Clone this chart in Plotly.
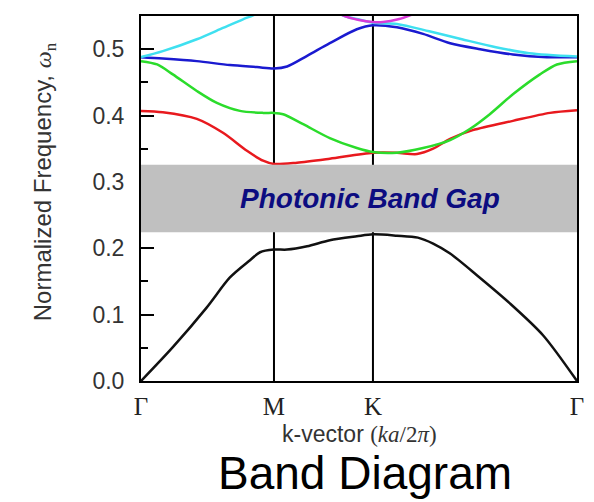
import plotly.graph_objects as go

# symmetry points along k-path (fraction of path length)
sym_names = ["Γ", "M", "K", "Γ"]
sym_pos = [0.0, 0.305, 0.532, 1.0]

# band 1 (black)
b1_k = [0, 0.073, 0.151, 0.204, 0.25, 0.273, 0.305, 0.335, 0.381, 0.433, 0.495, 0.532,
        0.587, 0.635, 0.670, 0.709, 0.771, 0.846, 0.922, 1.0]
b1_w = [0, 0.051, 0.111, 0.156, 0.182, 0.194, 0.198, 0.198, 0.203, 0.212, 0.218, 0.221,
        0.219, 0.216, 0.207, 0.192, 0.159, 0.117, 0.069, 0.0]
# band 2 (red)
b2_k = [0, 0.05, 0.128, 0.188, 0.243, 0.28, 0.305, 0.358, 0.433, 0.532, 0.587, 0.633,
        0.670, 0.709, 0.761, 0.853, 0.938, 1.0]
b2_w = [0.407, 0.405, 0.395, 0.374, 0.347, 0.332, 0.327, 0.329, 0.335, 0.344, 0.344, 0.342,
        0.350, 0.365, 0.378, 0.392, 0.404, 0.408]
# band 3 (green)
b3_k = [0, 0.037, 0.073, 0.128, 0.174, 0.227, 0.28, 0.305, 0.326, 0.372, 0.433, 0.495,
        0.532, 0.587, 0.647, 0.709, 0.755, 0.80, 0.853, 0.915, 0.954, 1.0]
b3_w = [0.482, 0.477, 0.462, 0.437, 0.419, 0.407, 0.404, 0.404, 0.402, 0.387, 0.366, 0.351,
        0.345, 0.344, 0.351, 0.363, 0.380, 0.402, 0.432, 0.462, 0.477, 0.482]
# band 4 (blue)
b4_k = [0, 0.05, 0.128, 0.204, 0.266, 0.305, 0.335, 0.381, 0.433, 0.495, 0.532, 0.587,
        0.647, 0.709, 0.778, 0.853, 0.931, 1.0]
b4_w = [0.488, 0.486, 0.482, 0.476, 0.473, 0.471, 0.474, 0.490, 0.509, 0.530, 0.536, 0.533,
        0.523, 0.509, 0.500, 0.492, 0.488, 0.488]
# band 5 (cyan)
b5_k = [0, 0.05, 0.128, 0.188, 0.234, 0.257, 0.305, 0.40, 0.44, 0.463, 0.498, 0.532,
        0.587, 0.661, 0.736, 0.814, 0.89, 1.0]
b5_w = [0.488, 0.497, 0.515, 0.532, 0.545, 0.551, 0.565, 0.575, 0.565, 0.551, 0.545, 0.540,
        0.538, 0.527, 0.515, 0.503, 0.494, 0.489]
# band 6 (magenta)
b6_k = [0.40, 0.463, 0.50, 0.532, 0.555, 0.59, 0.617, 0.68]
b6_w = [0.575, 0.551, 0.544, 0.541, 0.541, 0.545, 0.551, 0.57]

bands = [
    (b1_k, b1_w, "#111111"),
    (b2_k, b2_w, "#e8191e"),
    (b3_k, b3_w, "#2bdc2b"),
    (b4_k, b4_w, "#1a1ad0"),
    (b5_k, b5_w, "#3fe0f0"),
    (b6_k, b6_w, "#d83ad8"),
]

gap_low, gap_high = 0.224, 0.326
y_max = 0.55

fig = go.Figure()
for k, w, c in bands:
    fig.add_trace(go.Scatter(x=k, y=w, mode="lines",
                             line=dict(color=c, width=2.5, shape="spline", smoothing=0.8),
                             showlegend=False, hoverinfo="skip"))

# vertical lines at M and K
for p in sym_pos[1:-1]:
    fig.add_shape(type="line", xref="x", yref="y", x0=p, x1=p, y0=0, y1=y_max,
                  line=dict(color="black", width=2), layer="below")

# band gap
fig.add_shape(type="rect", xref="x", yref="y", x0=sym_pos[0], x1=sym_pos[-1],
              y0=gap_low, y1=gap_high, fillcolor="#c0c0c0", line=dict(width=0),
              layer="above")

fig.add_annotation(x=0.526, y=(gap_low + gap_high) / 2, xref="x", yref="y",
                   text="<b><i>Photonic Band Gap</i></b>", showarrow=False,
                   font=dict(family="Arial, Liberation Sans", size=28, color="#0c0c80"))

serif = "Times New Roman, Liberation Serif, serif"

# y title
fig.add_annotation(x=-0.222, y=0.545, xref="paper", yref="paper", textangle=-90,
                   text="Normalized Frequency, <span style='font-family:Liberation Serif'><i>ω</i><sub>n</sub></span>",
                   showarrow=False, xanchor="center", yanchor="middle",
                   font=dict(family="Arial, Liberation Sans", size=24, color="#333333"))
# x title
fig.add_annotation(x=0.5, y=-0.146, xref="paper", yref="paper",
                   text="k-vector <span style='font-family:Liberation Serif'>(<i>ka</i>/2<i>π</i>)</span>",
                   showarrow=False, xanchor="center", yanchor="middle",
                   font=dict(family="Arial, Liberation Sans", size=23, color="#333333"))
# caption
fig.add_annotation(x=0.514, y=-0.251, xref="paper", yref="paper",
                   text="Band Diagram", showarrow=False, xanchor="center", yanchor="middle",
                   font=dict(family="Arial, Liberation Sans", size=46, color="black"))

fig.update_xaxes(range=[sym_pos[0], sym_pos[-1]], tickmode="array", tickvals=sym_pos,
                 ticktext=sym_names, ticks="", showgrid=False, zeroline=False,
                 showline=True, mirror=True, linecolor="black", linewidth=2,
                 tickfont=dict(family=serif, size=25, color="#222222"),
                 ticklabelstandoff=2)
fig.update_yaxes(range=[0, y_max], tick0=0, dtick=0.1, tickformat=".1f",
                 ticks="inside", ticklen=13, tickwidth=2, tickcolor="black",
                 minor=dict(ticks="inside", ticklen=7, tickwidth=2, dtick=0.05, tickcolor="black"),
                 showgrid=False, zeroline=False, showline=True, mirror=True,
                 linecolor="black", linewidth=2,
                 tickfont=dict(family="Arial, Liberation Sans", size=23, color="#333333"),
                 ticklabelstandoff=10)

# page body has an 8px margin, so the figure is 8px smaller and shifted
fig.update_layout(width=586, height=494, margin=dict(l=133, r=17, t=6, b=121),
                  paper_bgcolor="white", plot_bgcolor="white")

fig.write_html("out.html")
